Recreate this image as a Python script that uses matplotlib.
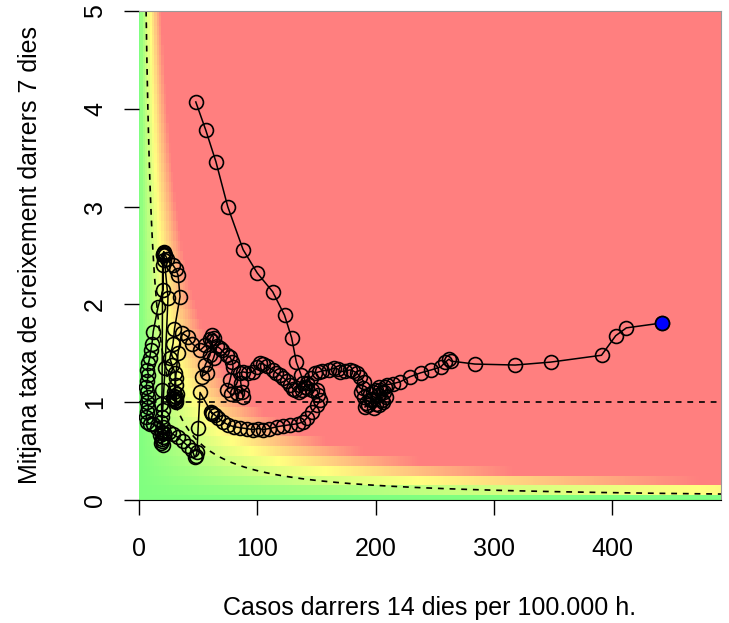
import numpy as np
import matplotlib
matplotlib.use("Agg")
import matplotlib.pyplot as plt
from matplotlib.colors import LinearSegmentedColormap

plt.rcParams['font.family'] = ['Liberation Sans', 'DejaVu Sans']

# primera onada: pujada i baixada
wave1_x = [48, 56.5, 65, 75, 88, 100, 113, 123, 129, 133, 137, 139, 142, 146, 150.6,
           151.6, 153, 150.6, 146, 142, 139, 134, 128, 122, 117, 110, 105, 101, 96, 91,
           85, 80, 75, 71, 67, 64, 62, 61, 62, 51.6, 50, 49, 48, 47, 45, 41.5, 37, 33,
           29, 25, 21]
wave1_y = [4.07, 3.78, 3.46, 3.00, 2.56, 2.32, 2.13, 1.89, 1.66, 1.41, 1.28, 1.20, 1.15,
           1.12, 1.12, 1.07, 1.02, 0.97, 0.90, 0.84, 0.80, 0.78, 0.77, 0.76, 0.75, 0.73,
           0.72, 0.73, 0.72, 0.73, 0.74, 0.75, 0.77, 0.80, 0.84, 0.87, 0.89, 0.90, 0.88,
           1.10, 0.74, 0.49, 0.45, 0.44, 0.51, 0.55, 0.60, 0.64, 0.67, 0.70, 0.68]

# estiu
summer_x = [19.5, 19, 20, 19.5, 18, 15, 12, 9, 7, 6, 7, 8, 7, 8, 7, 6, 7, 8, 7, 8, 9, 10,
            11, 12, 16, 20.3, 20.3, 20.5, 21, 20, 19.5, 19, 19.5, 20, 19.5, 20.5, 19.5, 19,
            20, 22, 24.5, 21.5, 21, 22, 24, 28.8, 31, 33, 34.7, 30, 28.8, 26, 28, 30.5, 31,
            30, 31, 30.5, 29.5, 31.5, 30, 32, 31, 29, 31, 33]
summer_y = [0.62, 0.58, 0.56, 0.60, 0.66, 0.74, 0.78, 0.78, 0.80, 0.85, 0.90, 0.95, 1.00,
            1.05, 1.10, 1.16, 1.22, 1.28, 1.33, 1.40, 1.45, 1.53, 1.60, 1.72, 1.97, 2.15,
            2.40, 2.52, 2.54, 2.50, 1.12, 0.98, 0.85, 0.75, 0.68, 0.64, 0.70, 0.80, 0.92,
            1.35, 2.07, 2.45, 2.53, 2.51, 2.46, 2.40, 2.36, 2.30, 2.08, 1.75, 1.60, 1.45,
            1.38, 1.30, 1.18, 1.10, 1.05, 1.01, 1.03, 1.02, 1.06, 1.08, 1.00, 1.04, 1.25,
            1.50]

# segona onada
autumn_x = [36, 41, 45, 51.6, 56, 60, 62, 63, 62, 60, 56, 53, 57.5, 63, 66, 68.5, 70, 74,
            77, 79, 79.5, 77, 74.5, 78, 83, 87, 88, 86, 85, 88, 92, 96, 100, 102, 105, 108,
            113, 116, 119, 122, 125, 128, 130, 132, 135, 138, 140, 142, 145, 149, 152, 155,
            161, 165, 168, 170, 174, 178.5, 181, 184, 187, 190, 189, 188, 190, 192, 191,
            194, 196, 195, 198, 197, 200, 199, 203, 205, 202, 204, 207, 209, 206, 200, 203,
            208, 210, 215, 221, 229, 238, 247, 255, 259, 262, 264, 284, 318, 348, 391, 403,
            412, 442]
autumn_y = [1.71, 1.67, 1.60, 1.53, 1.58, 1.65, 1.69, 1.66, 1.63, 1.48, 1.38, 1.26, 1.30,
            1.45, 1.57, 1.55, 1.53, 1.48, 1.46, 1.41, 1.36, 1.23, 1.12, 1.08, 1.09, 1.10,
            1.05, 1.20, 1.30, 1.31, 1.30, 1.31, 1.36, 1.40, 1.39, 1.37, 1.33, 1.30, 1.28,
            1.25, 1.22, 1.18, 1.14, 1.12, 1.10, 1.12, 1.16, 1.20, 1.25, 1.30, 1.31, 1.32,
            1.33, 1.35, 1.34, 1.31, 1.32, 1.33, 1.32, 1.30, 1.26, 1.21, 1.15, 1.10, 1.05,
            0.99, 0.95, 0.97, 1.02, 1.08, 1.10, 1.03, 0.98, 0.94, 0.97, 1.02, 1.07, 1.12,
            1.10, 1.05, 1.00, 1.12, 1.16, 1.16, 1.18, 1.19, 1.21, 1.26, 1.30, 1.33, 1.36,
            1.41, 1.44, 1.42, 1.39, 1.38, 1.41, 1.48, 1.68, 1.76, 1.81]

risk_limit = 30  # corba casos * taxa

x = wave1_x + summer_x + autumn_x
y = wave1_y + summer_y + autumn_y

W, H = 729, 623
fig = plt.figure(figsize=(W / 100, H / 100), dpi=100)
ax = fig.add_axes([139 / W, 1 - 500 / H, (721 - 139) / W, (500 - 11) / H])

# fons de risc (casos x taxa)
gx = np.arange(0, 502, 2.0)
gy = np.arange(0, 5.05, 0.1)
risk = np.outer(gy, gx)
cmap = LinearSegmentedColormap.from_list("risc", ["#80FF80", "#FFFF80", "#FF7F7F"])
ax.pcolormesh(gx, gy, risk, cmap=cmap, vmin=0, vmax=95, shading='nearest')

xs = np.linspace(1, 495, 600)
ax.plot(xs, risk_limit / xs, color='k', lw=1.2, ls=(0, (3.5, 3.5)))
ax.axhline(1, color='k', lw=1.2, ls=(0, (3.5, 3.5)))

ax.plot(x, y, '-o', color='k', mfc='none', ms=10, mew=1.2, lw=1.1)
ax.plot(x[-1], y[-1], 'o', mfc='blue', mec='k', ms=10, mew=1.2)

ax.set_xlim(0, 492)
ax.set_ylim(0, 5)
ax.set_xticks([0, 100, 200, 300, 400])
ax.set_yticks([0, 1, 2, 3, 4, 5])
ax.tick_params(length=11, width=1, labelsize=18, direction='out')
ax.tick_params(axis='x', pad=16)
ax.tick_params(axis='y', pad=12)
for lab in ax.get_yticklabels():
    lab.set_rotation(90)
    lab.set_va('center')

ax.spines['left'].set_visible(False)
ax.spines['top'].set_color('#999999')
ax.spines['right'].set_color('#999999')
ax.spines['bottom'].set_color('k')

fig.text(430 / W, 1 - 608 / H, "Casos darrers 14 dies per 100.000 h.",
         ha='center', va='center', fontsize=18)
fig.text(30 / W, 1 - 255 / H, "Mitjana taxa de creixement darrers 7 dies",
         ha='center', va='center', rotation=90, fontsize=18)

fig.savefig("out.png", dpi=100)
